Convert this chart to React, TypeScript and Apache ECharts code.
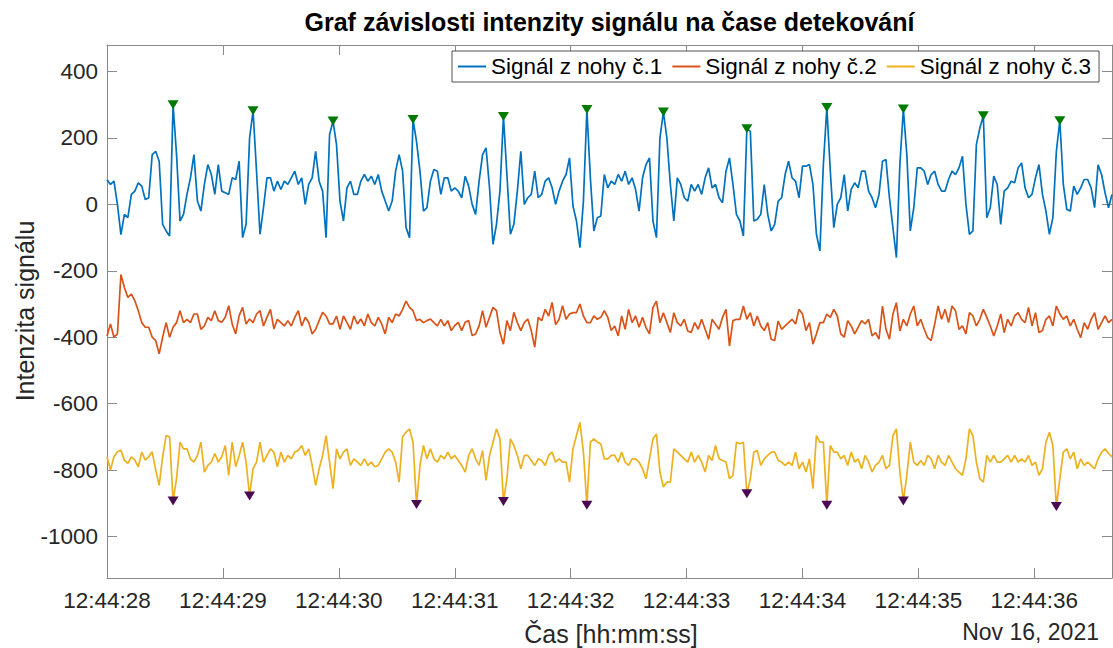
import React, { useEffect, useRef } from "react";
import * as echarts from "echarts";

// ---- data ----
const TITLE = "Graf závislosti intenzity signálu na čase detekování";
const X_NAME = "Čas [hh:mm:ss]";
const Y_NAME = "Intenzita signálu";
const DATE_LABEL = "Nov 16, 2021";
const SERIES_NAMES = ["Signál z nohy č.1", "Signál z nohy č.2", "Signál z nohy č.3"];
const SERIES_COLORS = ["#0072BD", "#D95319", "#EDB120"];
const TIME_LABELS = ["12:44:28", "12:44:29", "12:44:30", "12:44:31", "12:44:32", "12:44:33", "12:44:34", "12:44:35", "12:44:36"];
const X_TICKS = [0, 1, 2, 3, 4, 5, 6, 7, 8];
const Y_TICKS = [-1000, -800, -600, -400, -200, 0, 200, 400];
const SAMPLE_PERIOD_S = 0.03; // seconds after 12:44:28
const X_MIN = 0;
const X_MAX = 8.67;
const Y_MIN = -1125;
const Y_MAX = 480;

const SIGNAL_1 = [
  74, 60, 70, 0, -91, -30, -40, 30, 40, 65,
  55, 15, 20, 150, 160, 130, -60, -80, -95, 300,
  150, -50, -30, 30, 80, 150, 10, -20, 60, 120,
  90, 30, 120, 40, 35, 30, 80, 75, 130, -100,
  -60, 200, 282, 100, -90, -10, 80, 80, 40, 70,
  45, 70, 60, 80, 100, 60, 80, 0, 60, 80,
  160, 70, 40, -100, 210, 251, 180, 10, -50, 50,
  70, 30, 30, 70, 90, 70, 85, 60, 90, 40,
  10, -20, 10, 100, 150, 100, -70, -100, 256, 190,
  100, -20, -10, 70, 105, 100, 30, 80, 80, 40,
  50, 40, 20, 85, 55, 0, -30, 70, 150, 170,
  50, -120, -60, 40, 265, 90, -90, -60, 40, 160,
  0, 20, 30, 100, 20, 30, 70, 80, 50, 0,
  40, 70, 90, 140, -5, -50, -130, 10, 286, 80,
  -80, -40, -35, 90, 50, 70, 60, 90, 70, 100,
  60, 80, 45, -20, 80, 120, 140, -50, -100, 200,
  278, 200, 60, -50, 80, 60, 20, 10, 60, 40,
  60, 30, 80, 110, 50, 60, 20, 5, 100, 140,
  60, -30, -50, -95, 228, 220, -50, -45, -30, 60,
  -30, -80, -60, 10, 20, 90, 130, 80, 70, 20,
  115, 115, 120, 60, -90, -140, 120, 292, 100, -70,
  0, 20, 90, -20, 45, 65, 50, 100, 100, 40,
  20, -10, 30, 130, 135, 20, -70, -160, 120, 287,
  150, -80, -10, 110, 110, 100, 60, 90, 100, 60,
  40, 40, 75, 100, 90, 110, 145, 0, -90, -80,
  180, 230, 267, -40, -10, 85, 60, -60, 40, 50,
  70, 65, 110, 125, 50, 20, 30, 80, 120, 30,
  -20, -90, -40, 160, 252, 60, -15, -20, 55, 30,
  50, 75, 75, 50, -10, 119, 90, 35, -10, 30,
];

const SIGNAL_2 = [
  -396, -360, -400, -390, -211, -250, -280, -270, -290, -320,
  -356, -370, -370, -400, -410, -450, -400, -356, -400, -370,
  -356, -320, -356, -346, -356, -330, -330, -376, -366, -340,
  -350, -320, -350, -355, -340, -305, -360, -390, -335, -310,
  -360, -345, -356, -330, -320, -366, -340, -316, -375, -346,
  -356, -366, -350, -366, -340, -320, -366, -340, -355, -390,
  -376, -350, -325, -336, -360, -360, -336, -376, -336, -356,
  -376, -336, -360, -345, -366, -330, -356, -366, -340, -360,
  -390, -340, -356, -330, -336, -316, -291, -310, -320, -350,
  -346, -356, -350, -345, -356, -366, -346, -366, -350, -380,
  -365, -355, -380, -355, -350, -395, -390, -366, -320, -370,
  -340, -310, -320, -386, -421, -350, -380, -325, -356, -380,
  -356, -345, -380, -430, -340, -350, -316, -336, -295, -362,
  -346, -305, -346, -330, -326, -326, -300, -336, -356, -356,
  -336, -346, -340, -320, -340, -380, -366, -396, -336, -376,
  -316, -356, -336, -370, -340, -371, -390, -311, -291, -356,
  -326, -356, -386, -326, -356, -366, -346, -381, -386, -356,
  -376, -346, -376, -406, -346, -361, -376, -340, -316, -426,
  -350, -346, -346, -306, -346, -326, -366, -336, -366, -380,
  -356, -406, -410, -351, -376, -366, -356, -346, -360, -316,
  -330, -380, -356, -421, -390, -356, -356, -330, -340, -316,
  -336, -390, -400, -350, -366, -390, -370, -350, -360, -346,
  -396, -386, -406, -306, -376, -406, -330, -296, -381, -346,
  -366, -330, -306, -366, -346, -376, -401, -410, -361, -306,
  -346, -316, -356, -306, -320, -376, -366, -390, -326, -336,
  -366, -346, -316, -340, -366, -396, -366, -330, -386, -346,
  -366, -336, -326, -346, -356, -310, -366, -326, -386, -380,
  -346, -336, -366, -306, -330, -346, -336, -366, -346, -376,
  -401, -356, -376, -346, -326, -376, -356, -336, -356, -346,
];

const SIGNAL_3 = [
  -760, -800, -760, -745, -740, -770, -780, -760, -770, -790,
  -746, -770, -760, -745, -800, -846, -760, -696, -700, -893,
  -826, -716, -736, -736, -766, -776, -756, -716, -806, -786,
  -776, -750, -776, -760, -726, -816, -716, -790, -756, -716,
  -776, -878, -796, -776, -716, -776, -756, -736, -746, -790,
  -746, -776, -756, -766, -746, -741, -726, -756, -736, -786,
  -846, -796, -756, -696, -776, -856, -736, -766, -746, -736,
  -786, -766, -776, -786, -766, -786, -776, -790, -786, -766,
  -746, -736, -746, -776, -836, -700, -686, -676, -716, -904,
  -786, -726, -766, -736, -766, -776, -756, -766, -746, -766,
  -756, -771, -786, -806, -756, -736, -766, -786, -741, -831,
  -756, -716, -676, -706, -895, -826, -706, -726, -756, -796,
  -756, -756, -771, -786, -766, -771, -786, -756, -746, -776,
  -766, -776, -776, -836, -736, -696, -656, -746, -906, -716,
  -706, -716, -721, -766, -766, -756, -756, -776, -746, -776,
  -786, -766, -766, -776, -796, -826, -766, -706, -691, -806,
  -851, -836, -836, -736, -746, -756, -766, -776, -746, -776,
  -756, -776, -806, -756, -771, -726, -766, -771, -776, -826,
  -816, -716, -721, -716, -871, -826, -746, -741, -786, -766,
  -756, -746, -746, -771, -776, -786, -776, -786, -746, -796,
  -776, -806, -766, -856, -696, -716, -716, -906, -726, -746,
  -746, -766, -756, -786, -746, -776, -766, -796, -756, -776,
  -806, -786, -776, -756, -796, -786, -696, -676, -806, -893,
  -816, -716, -776, -786, -771, -786, -756, -766, -796, -756,
  -776, -786, -756, -776, -796, -806, -816, -766, -676, -696,
  -776, -826, -836, -756, -776, -756, -776, -776, -766, -756,
  -776, -756, -776, -766, -776, -756, -786, -776, -816, -796,
  -716, -686, -726, -910, -826, -746, -736, -766, -746, -796,
  -766, -786, -776, -786, -796, -766, -746, -736, -750, -760,
];

// sample indices of detected peaks (signal 1) and valleys (signal 3)
const PEAK_INDICES_1 = [19, 42, 65, 88, 114, 138, 160, 184, 207, 229, 252, 274];
const VALLEY_INDICES_3 = [19, 41, 89, 114, 138, 184, 207, 229, 273];

const FONT = '"Liberation Sans", Arial, Helvetica, sans-serif';
const AXIS_COLOR = "#8a8a8a";
const TEXT_COLOR = "#262626";

function toPairs(values: number[]) {
  return values.map((v, i) => [i * SAMPLE_PERIOD_S, v]);
}

export default function App() {
  const ref = useRef<HTMLDivElement>(null);

  useEffect(() => {
    if (!ref.current) return;
    const chart = echarts.init(ref.current, undefined, { renderer: "svg" });

    const lineSeries = [SIGNAL_1, SIGNAL_2, SIGNAL_3].map((sig, k) => ({
      name: SERIES_NAMES[k],
      type: "line",
      data: toPairs(sig),
      showSymbol: false,
      symbol: "none",
      color: SERIES_COLORS[k],
      lineStyle: { color: SERIES_COLORS[k], width: 1.7 },
      z: 2 + k,
      silent: true,
    }));

    const axisBase = {
      axisLine: { show: true, onZero: false, lineStyle: { color: AXIS_COLOR, width: 1 } },
      splitLine: { show: false },
    };

    const option: any = {
      animation: false,
      grid: { left: 107, right: 1, top: 45, bottom: 70, containLabel: false },
      legend: {
        data: SERIES_NAMES.map((n) => ({ name: n, icon: "rect" })),
        left: 452,
        top: 51,
        itemWidth: 28,
        itemHeight: 2,
        itemGap: 10,
        padding: [4, 8, 4, 6],
        borderColor: "#262626",
        borderWidth: 0.8,
        backgroundColor: "#ffffff",
        textStyle: { fontFamily: FONT, fontSize: 22.5, color: "#000" },
        selectedMode: false,
      },
      xAxis: [
        {
          type: "value",
          min: X_MIN,
          max: X_MAX,
          position: "bottom",
          ...axisBase,
          axisTick: { show: true, inside: true, length: 10, customValues: X_TICKS, lineStyle: { color: AXIS_COLOR } },
          axisLabel: {
            show: true,
            customValues: X_TICKS,
            margin: 11,
            fontFamily: FONT,
            fontSize: 22.5,
            color: TEXT_COLOR,
            formatter: (v: number) => TIME_LABELS[Math.round(v)] ?? "",
          },
        },
        {
          type: "value",
          min: X_MIN,
          max: X_MAX,
          position: "top",
          ...axisBase,
          axisTick: { show: true, inside: true, length: 10, customValues: X_TICKS, lineStyle: { color: AXIS_COLOR } },
          axisLabel: { show: false },
        },
      ],
      yAxis: [
        {
          type: "value",
          min: Y_MIN,
          max: Y_MAX,
          position: "left",
          ...axisBase,
          axisTick: { show: true, inside: true, length: 10, customValues: Y_TICKS, lineStyle: { color: AXIS_COLOR } },
          axisLabel: {
            show: true,
            customValues: Y_TICKS,
            margin: 9,
            fontFamily: FONT,
            fontSize: 22.5,
            color: TEXT_COLOR,
            formatter: (v: number) => String(v),
          },
        },
        {
          type: "value",
          min: Y_MIN,
          max: Y_MAX,
          position: "right",
          ...axisBase,
          axisTick: { show: true, inside: true, length: 10, customValues: Y_TICKS, lineStyle: { color: AXIS_COLOR } },
          axisLabel: { show: false },
        },
      ],
      series: [
        ...lineSeries,
        {
          name: "peaks1",
          type: "scatter",
          data: PEAK_INDICES_1.map((i) => [i * SAMPLE_PERIOD_S, SIGNAL_1[i]]),
          symbol: "triangle",
          symbolRotate: 180,
          symbolSize: [11, 9],
          itemStyle: { color: "#007a00", opacity: 1 },
          z: 10,
          silent: true,
        },
        {
          name: "valleys3",
          type: "scatter",
          data: VALLEY_INDICES_3.map((i) => [i * SAMPLE_PERIOD_S, SIGNAL_3[i]]),
          symbol: "triangle",
          symbolRotate: 180,
          symbolSize: [11, 9],
          itemStyle: { color: "#4a0a50", opacity: 1 },
          z: 10,
          silent: true,
        },
      ],
      graphic: [
        {
          type: "text",
          x: 609.5,
          y: 22,
          style: {
            text: TITLE,
            fontFamily: FONT,
            fontSize: 25,
            fontWeight: "bold",
            fill: "#000",
            align: "center",
            verticalAlign: "middle",
          },
        },
        {
          type: "text",
          x: 611,
          y: 634,
          style: {
            text: X_NAME,
            fontFamily: FONT,
            fontSize: 25,
            fill: TEXT_COLOR,
            align: "center",
            verticalAlign: "middle",
          },
        },
        {
          type: "text",
          x: 1099,
          y: 632,
          style: {
            text: DATE_LABEL,
            fontFamily: FONT,
            fontSize: 23,
            fill: TEXT_COLOR,
            align: "right",
            verticalAlign: "middle",
          },
        },
        {
          type: "text",
          x: 25,
          y: 311,
          rotation: Math.PI / 2,
          style: {
            text: Y_NAME,
            fontFamily: FONT,
            fontSize: 25,
            fill: TEXT_COLOR,
            align: "center",
            verticalAlign: "middle",
          },
        },
      ],
    };

    chart.setOption(option);
    return () => chart.dispose();
  }, []);

  return (
    <div
      ref={ref}
      style={{ position: "fixed", left: 0, top: 0, width: 1113, height: 648, background: "#fff" }}
    />
  );
}
